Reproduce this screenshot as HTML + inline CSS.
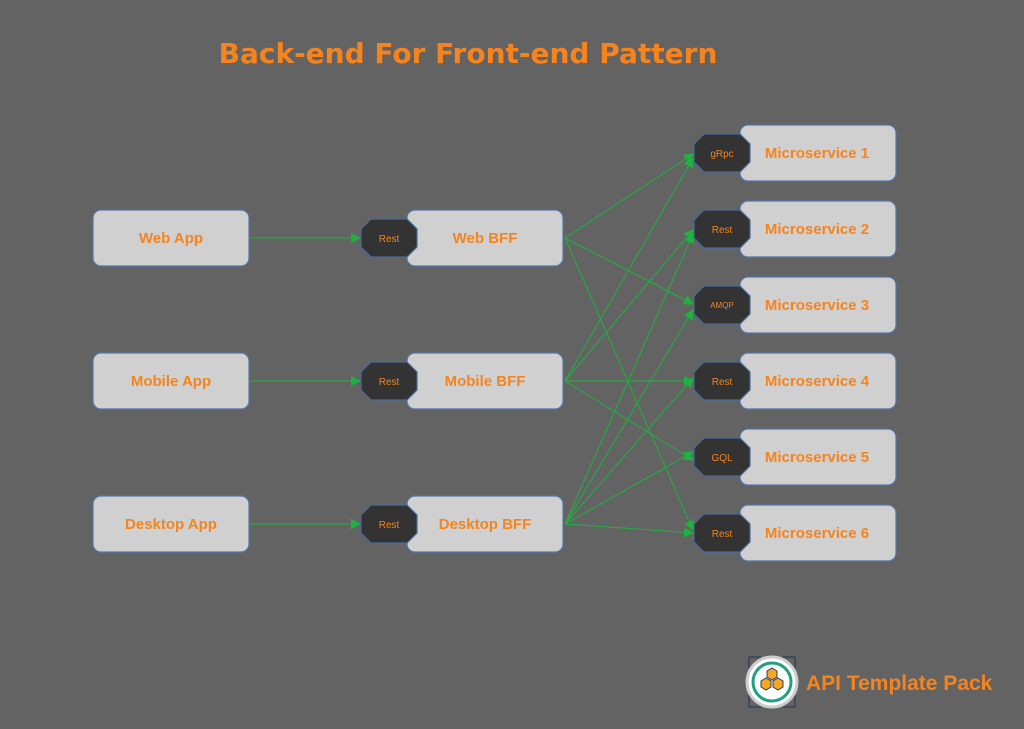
<!DOCTYPE html>
<html><head><style>
body{margin:0;width:1024px;height:724px;background:#636363;overflow:hidden}
</style></head><body>
<svg width="1024" height="724" xmlns="http://www.w3.org/2000/svg" font-family="Liberation Sans, sans-serif">
<defs>
<marker id="a" markerWidth="10" markerHeight="10" refX="9" refY="5" orient="auto" markerUnits="userSpaceOnUse"><path d="M0,0 L10,5 L0,10z" fill="#1db33e"/></marker>
<g id="oct"><polygon points="10,0 46,0 56,10 56,28 46,38 10,38 0,28 0,10" fill="#333" stroke="#4a6a9a" stroke-width="1.2"/></g>
</defs>
<text x="468" y="63" text-anchor="middle" font-size="28" font-weight="bold" fill="#f5841f" font-family="DejaVu Sans, sans-serif">Back-end For Front-end Pattern</text>
<g stroke="#1db33e" stroke-width="1" fill="none" marker-end="url(#a)">
<line x1="250" y1="238" x2="360" y2="238"/>
<line x1="250" y1="381" x2="360" y2="381"/>
<line x1="250" y1="524" x2="360" y2="524"/>
<line x1="565" y1="238" x2="693" y2="154"/>
<line x1="565" y1="238" x2="693" y2="304"/>
<line x1="565" y1="238" x2="693" y2="530"/>
<line x1="565" y1="381" x2="693" y2="158"/>
<line x1="565" y1="381" x2="693" y2="230"/>
<line x1="565" y1="381" x2="693" y2="381"/>
<line x1="565" y1="381" x2="693" y2="460"/>
<line x1="565" y1="524" x2="693" y2="234"/>
<line x1="565" y1="524" x2="693" y2="310"/>
<line x1="565" y1="524" x2="693" y2="378"/>
<line x1="565" y1="524" x2="693" y2="452"/>
<line x1="565" y1="524" x2="693" y2="533"/>
</g>
<g fill="#d0d0d0" stroke="#5577aa" stroke-width="1.2">
<rect x="93" y="210" width="156" height="56" rx="8"/>
<rect x="93" y="353" width="156" height="56" rx="8"/>
<rect x="93" y="496" width="156" height="56" rx="8"/>
<rect x="407" y="210" width="156" height="56" rx="8"/>
<rect x="407" y="353" width="156" height="56" rx="8"/>
<rect x="407" y="496" width="156" height="56" rx="8"/>
<rect x="740" y="125" width="156" height="56" rx="8"/>
<rect x="740" y="201" width="156" height="56" rx="8"/>
<rect x="740" y="277" width="156" height="56" rx="8"/>
<rect x="740" y="353" width="156" height="56" rx="8"/>
<rect x="740" y="429" width="156" height="56" rx="8"/>
<rect x="740" y="505" width="156" height="56" rx="8"/>
</g>
<use href="#oct" x="361" y="219"/><use href="#oct" x="361" y="362"/><use href="#oct" x="361" y="505"/>
<use href="#oct" x="694" y="134"/><use href="#oct" x="694" y="210"/><use href="#oct" x="694" y="286"/>
<use href="#oct" x="694" y="362"/><use href="#oct" x="694" y="438"/><use href="#oct" x="694" y="514"/>
<g fill="#f5841f" font-size="15" font-weight="bold" text-anchor="middle">
<text x="171" y="243">Web App</text><text x="171" y="386">Mobile App</text><text x="171" y="529">Desktop App</text>
<text x="485" y="243">Web BFF</text><text x="485" y="386">Mobile BFF</text><text x="485" y="529">Desktop BFF</text>
<text x="817" y="158">Microservice 1</text><text x="817" y="234">Microservice 2</text><text x="817" y="310">Microservice 3</text>
<text x="817" y="386">Microservice 4</text><text x="817" y="462">Microservice 5</text><text x="817" y="538">Microservice 6</text>
</g>
<g fill="#f5841f" font-size="10" text-anchor="middle">
<text x="389" y="242">Rest</text><text x="389" y="385">Rest</text><text x="389" y="528">Rest</text>
<text x="722" y="157">gRpc</text><text x="722" y="233">Rest</text><text x="722" y="308" font-size="8">AMQP</text>
<text x="722" y="385">Rest</text><text x="722" y="461">GQL</text><text x="722" y="537">Rest</text>
</g>
<g>
<g stroke="#2a3e5a" stroke-width="1.2" fill="none">
<path d="M749,669 V657 M749,657 H761 M795,657 H783 M795,657 V669 M749,707 V695 M749,707 H761 M795,707 H783 M795,707 V695"/>
</g>
<circle cx="772" cy="682" r="25" fill="#fff" stroke="#ccc" stroke-width="3"/>
<circle cx="772" cy="682" r="19" fill="#fff" stroke="#20a080" stroke-width="3"/>
<g fill="#f5a623" stroke="#2a3e5a" stroke-width="1">
<polygon points="772,668 777,671 777,677 772,680 767,677 767,671"/>
<polygon points="766,678 771,681 771,687 766,690 761,687 761,681"/>
<polygon points="778,678 783,681 783,687 778,690 773,687 773,681"/>
</g>
<text x="806" y="690" font-size="21" font-weight="bold" fill="#f5841f">API Template Pack</text>
</g>
</svg>
</body></html>
